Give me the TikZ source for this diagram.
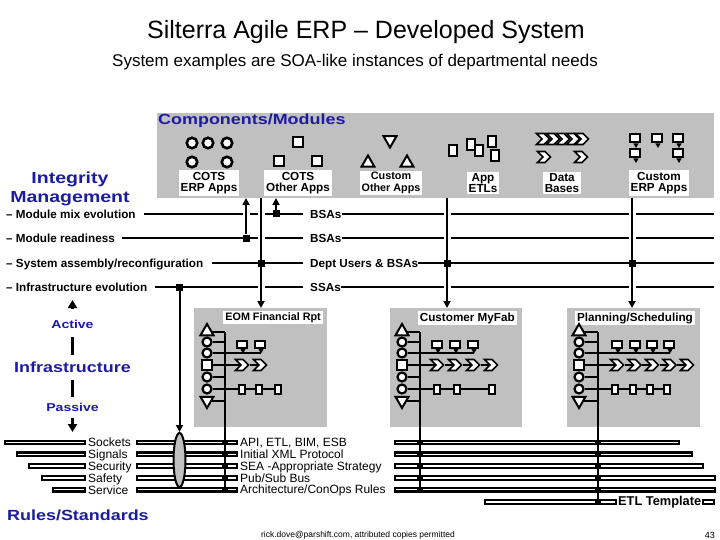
\documentclass[tikz,border=0pt]{standalone}
\usepackage{fontspec}
\setmainfont{Liberation Sans}
\newfontfamily\headfont[FakeStretch=1.22]{Liberation Sans}
\usepackage{tikz}
\usetikzlibrary{arrows.meta,calc,positioning,shapes.geometric,shapes.symbols}
\definecolor{PanelGray}{HTML}{C0C0C0}
\definecolor{HeadBlue}{HTML}{1C1CA0}

\begin{document}
\begin{tikzpicture}[
        x=1pt, y=-1pt,
        font=\bfseries\fontsize{11.7}{11.5}\selectfont,
        panel/.style={fill=PanelGray, inner sep=0pt, outer sep=0pt, anchor=north west},
        tag/.style={fill=white, align=center, inner xsep=2pt, inner ysep=1.5pt},
        head/.style={text=HeadBlue, inner sep=1pt, font=\headfont\bfseries\fontsize{14.7}{17}\selectfont},
        rowtxt/.style={anchor=west, inner sep=0pt, text height=8.5pt, text depth=0pt},
        ring/.style={circle, draw, line width=2.6pt, fill=white, minimum size=10.5pt, inner sep=0pt},
        blk/.style={rectangle, draw, line width=2.6pt, fill=white, minimum size=10pt, inner sep=0pt},
        triup/.style={regular polygon, regular polygon sides=3, draw, line width=2pt, fill=white, minimum size=15pt, inner sep=0pt},
        tridown/.style={triup, shape border rotate=180},
        sring/.style={ring, minimum size=9pt, line width=2.2pt},
        sblk/.style={blk, minimum size=9.5pt, line width=2.2pt},
        doc/.style={rectangle, draw, line width=2pt, fill=white, minimum width=6.5pt, minimum height=9pt, inner sep=0pt},
        chev/.style={signal, signal from=west, signal to=east, draw, line width=1.6pt, fill=white, minimum width=13pt, minimum height=11pt, inner sep=0pt},
        bubble/.style={rectangle, draw, line width=2pt, fill=white, minimum width=10pt, minimum height=6.5pt, inner sep=0pt},
        tail/.style={regular polygon, regular polygon sides=3, shape border rotate=180, fill=black, minimum size=6pt, inner sep=0pt},
        wire/.style={line width=2pt},
        arrow/.style={wire, -{Triangle[length=7pt,width=7pt]}},
        axis/.style={line width=2.6pt, -{Triangle[length=8pt,width=9pt]}},
        cross/.style={preaction={draw=white, line width=7pt, -}},
        jbox/.style={rectangle, fill=black, minimum size=7pt, inner sep=0pt},
        jdot/.style={rectangle, fill=black, minimum width=6pt, minimum height=5pt, inner sep=0pt},
        bar/.style={rectangle, draw, line width=2.2pt, fill=white, minimum height=3.6pt, inner sep=0pt, outer sep=0pt, anchor=west},
        plain/.style={font=\mdseries\fontsize{12}{11.8}\selectfont, anchor=west, align=left, inner sep=0pt}
    ]
    \fill[white] (0,0) rectangle (720,540);
    \useasboundingbox (0,0) rectangle (720,540);

    % title block
    \node[font=\mdseries\fontsize{25}{30}\selectfont, anchor=base] (title) at (366,39) {Silterra Agile ERP – Developed System};
    \node[font=\mdseries\fontsize{17}{20}\selectfont, anchor=base] (subtitle) at (355,67) {System examples are SOA-like instances of departmental needs};

    % component panel
    \node[panel, minimum width=557pt, minimum height=85pt] (modpanel) at (157,113) {};
    \node[head, anchor=base west, inner sep=0pt] (modhead) at (158,125) {Components/Modules};

    \node[ring] (erp1) at (192,143) {};
    \node[ring] (erp2) at (208,143) {};
    \node[ring] (erp3) at (227,143) {};
    \node[ring] (erp4) at (192,162) {};
    \node[ring] (erp5) at (227,162) {};
    \node[blk] (oth1) at (298,142) {};
    \node[blk] (oth2) at (279,161) {};
    \node[blk] (oth3) at (317,161) {};
    \node[tridown] (cus1) at (390,140) {};
    \node[triup] (cus2) at (368,163) {};
    \node[triup] (cus3) at (407,163) {};
    \node[doc, minimum width=7.5pt, minimum height=11pt] (etl1) at (453,151) {};
    \node[doc, minimum width=7.5pt, minimum height=11pt] (etl2) at (471,145) {};
    \node[doc, minimum width=7.5pt, minimum height=11pt] (etl3) at (479,151) {};
    \node[doc, minimum width=7.5pt, minimum height=11pt] (etl4) at (492,142) {};
    \node[doc, minimum width=7.5pt, minimum height=11pt] (etl5) at (495,156) {};
    \foreach \x [count=\i] in {543,553,563,573,582}
        \node[chev] (db\i) at (\x,139) {};
    \node[chev] (db6) at (544,157) {};
    \node[chev] (db7) at (581,157) {};
    \node[bubble, minimum height=8pt] (cea1) at (635,138) {};
    \node[bubble, minimum height=8pt] (cea2) at (657,138) {};
    \node[bubble, minimum height=8pt] (cea3) at (678,138) {};
    \node[bubble, minimum height=8pt] (cea4) at (635,153) {};
    \node[bubble, minimum height=8pt] (cea5) at (678,153) {};
    \node[tail] (ceat1) at (636,145) {};
    \node[tail] (ceat2) at (658,145) {};
    \node[tail] (ceat3) at (679,145) {};
    \node[tail] (ceat4) at (636,160) {};
    \node[tail] (ceat5) at (679,160) {};

    \node[tag] (cotserp) at (209,183) {COTS\\ERP Apps};
    \node[tag] (cotsoth) at (298,183) {COTS\\Other Apps};
    \node[tag, font=\bfseries\fontsize{10.8}{11.5}\selectfont] (custoth) at (391,183) {Custom\\Other Apps};
    \node[tag] (appetl) at (483,183) {App\\ETLs};
    \node[tag] (dbases) at (562,183) {Data\\Bases};
    \node[tag] (custerp) at (659,183) {Custom\\ERP Apps};

    % integrity rows
    \node[head, font=\headfont\bfseries\fontsize{16}{18.5}\selectfont, align=center] (integ) at (70,189) {Integrity\\Management};
    \node[rowtxt] (mixevo) at (6,214) {– Module mix evolution};
    \node[rowtxt] (readiness) at (6,238) {– Module readiness};
    \node[rowtxt] (assembly) at (6,263) {– System assembly/reconfiguration};
    \node[rowtxt] (infraevo) at (6,287) {– Infrastructure evolution};
    \node[rowtxt] (bsaone) at (310,214) {BSAs};
    \node[rowtxt] (bsatwo) at (310,238) {BSAs};
    \node[rowtxt] (deptusers) at (310,263) {Dept Users \& BSAs};
    \node[rowtxt] (ssas) at (310,287) {SSAs};
    \coordinate (endone) at (714,214);
    \coordinate (endtwo) at (714,238);
    \coordinate (endthree) at (714,263);
    \coordinate (endfour) at (714,287);

    \draw[wire] ([xshift=8pt]mixevo.east) -- ([xshift=-7pt]bsaone.west);
    \draw[wire] (bsaone.east) -- (endone);
    \draw[wire] ([xshift=7pt]readiness.east) -- ([xshift=-7pt]bsatwo.west);
    \draw[wire] (bsatwo.east) -- (endtwo);
    \draw[wire] ([xshift=9pt]assembly.east) -- ([xshift=-7pt]deptusers.west);
    \draw[wire] (deptusers.east) -- (endthree);
    \draw[wire] ([xshift=8pt]infraevo.east) -- ([xshift=-7pt]ssas.west);
    \draw[wire] (ssas.east) -- (endfour);

    % application panels
    \node[panel, minimum width=133pt, minimum height=119pt] (eompanel) at (194,308) {};
    \node[panel, minimum width=132pt, minimum height=119pt] (fabpanel) at (390,308) {};
    \node[panel, minimum width=133pt, minimum height=119pt] (planpanel) at (567,308) {};
    \node[tag, anchor=north east, font=\bfseries\fontsize{10.8}{12}\selectfont] (eomtag) at ([xshift=-4pt,yshift=-3pt]eompanel.north east) {EOM Financial Rpt};
    \node[tag, anchor=north east] (fabtag) at ([xshift=-5pt,yshift=-3pt]fabpanel.north east) {Customer MyFab};
    \node[tag, anchor=north east] (plantag) at ([xshift=-5pt,yshift=-3pt]planpanel.north east) {Planning/Scheduling};

    % feeds from the modules
    \coordinate (erpin) at (246,198);
    \coordinate (othin) at (276,198);
    \coordinate (eomfeed) at (261,198);
    \coordinate (fabfeed) at (447,198);
    \coordinate (planfeed) at (632,198);
    \node[jbox] (jtwo) at (246,238) {};
    \node[jbox] (jone) at (276,214) {};
    \node[jbox] (jfour) at (179.5,287) {};
    \draw[arrow, cross] (jtwo) -- (erpin);
    \draw[arrow] (jone) -- (othin);
    \draw[arrow, cross] (eomfeed) -- (eomfeed |- eompanel.north);
    \draw[arrow, cross] (fabfeed) -- (fabfeed |- fabpanel.north);
    \draw[arrow, cross] (planfeed) -- (planfeed |- planpanel.north);
    \node[jbox] (jthreea) at (261,263) {};
    \node[jbox] (jthreeb) at (447,263) {};
    \node[jbox] (jthreec) at (632,263) {};

    % infrastructure axis
    \node[head, font=\headfont\bfseries\fontsize{11.5}{13}\selectfont] (active) at (72.5,324) {Active};
    \node[head] (infra) at (72.5,367.5) {Infrastructure};
    \node[head, font=\headfont\bfseries\fontsize{11.5}{13}\selectfont] (passive) at (72.5,407.5) {Passive};
    \coordinate (activetip) at (72.5,300);
    \coordinate (passivetip) at (72.5,432);
    \draw[axis] ([yshift=10pt]active.north) -- (activetip);
    \draw[line width=2.6pt, shorten <=8pt, shorten >=6pt] (active) -- (infra);
    \draw[line width=2.6pt, shorten <=6pt, shorten >=5pt] (infra) -- (passive);
    \draw[axis] ([yshift=-5pt]passive.south) -- (passivetip);

    % rules / standards bars
    \node[bar, minimum width=80pt] (sockbar) at (5,442.5) {};
    \node[bar, minimum width=68pt] (sigbar) at (17,454.3) {};
    \node[bar, minimum width=56pt] (secbar) at (29,466.1) {};
    \node[bar, minimum width=43pt] (safebar) at (42,477.9) {};
    \node[bar, minimum width=32pt] (servbar) at (53,489.7) {};
    \node[plain] (stdlist) at (88,466.3) {Sockets\\Signals\\Security\\Safety\\Service};

    \node[bar, minimum width=100pt] (mb1) at (137,442.5) {};
    \node[bar, minimum width=100pt] (mb2) at (137,454.3) {};
    \node[bar, minimum width=100pt] (mb3) at (137,466.1) {};
    \node[bar, minimum width=100pt] (mb4) at (137,477.9) {};
    \node[bar, minimum width=100pt] (mb5) at (137,489.7) {};
    \node[plain] (rulelist) at (240,467.3) {API, ETL, BIM, ESB\\Initial XML Protocol\\SEA -Appropriate Strategy\\Pub/Sub Bus\\Architecture/ConOps Rules};

    \node[bar, minimum width=284pt] (rb1) at (395,442.5) {};
    \node[bar, minimum width=297pt] (rb2) at (395,454.3) {};
    \node[bar, minimum width=308pt] (rb3) at (395,466.1) {};
    \node[bar, minimum width=320pt] (rb4) at (395,477.9) {};
    \node[bar, minimum width=320pt] (rb5) at (395,489.7) {};
    \node[bar, minimum width=131pt] (etlbar) at (485,502) {};
    \node[anchor=west, inner sep=0pt, font=\bfseries\fontsize{12.8}{14}\selectfont] (etltemplate) at (618,502) {ETL Template};
    \node[bar, minimum width=11pt] (etltail) at (703,502) {};

    \node[ellipse, draw, line width=2pt, fill=PanelGray, minimum width=12pt, minimum height=54pt, inner sep=0pt] (stdring) at (179.5,460) {};
    \draw[arrow] (jfour) -- (stdring.north);

    % EOM assembly
    \coordinate (eomspine) at (225,331.5);
    \draw[wire] (eomspine) -- (eomspine |- mb5);
    \node[triup] (eup) at (207,331.5) {};
    \node[sring] (ec1) at (207,342) {};
    \node[sring] (ec2) at (207,353) {};
    \node[sblk] (esq) at (207,365) {};
    \node[sring] (ec3) at (207,377) {};
    \node[sring] (ec4) at (207,389) {};
    \node[tridown] (edn) at (207,400.5) {};
    \foreach \n in {eup,ec1,ec2,esq,ec3,ec4,edn}
        \draw[wire] (\n) -- (\n -| eomspine);
    \node[bubble] (eb1) at (242,344.5) {};
    \node[bubble] (eb2) at (260,344.5) {};
    \node[tail] (et1) at (243,350.5) {};
    \node[tail] (et2) at (261,350.5) {};
    \draw[wire] (ec2 -| eomspine) -- (ec2 -| et2);
    \node[chev] (ech1) at (242,365) {};
    \node[chev] (ech2) at (260,365) {};
    \draw[wire] (esq -| eomspine) -- (ech1) -- (ech2);
    \node[doc] (ed1) at (242,389) {};
    \node[doc] (ed2) at (259,389) {};
    \node[doc] (ed3) at (278,389) {};
    \draw[wire] (ec4 -| eomspine) -- (ed1) -- (ed2) -- (ed3);
    \foreach \b in {mb1,mb2,mb3,mb4,mb5}
        \node[jdot] (e\b) at (\b -| eomspine) {};

    % MyFab assembly
    \coordinate (fabspine) at (419.5,331.5);
    \draw[wire] (fabspine) -- (fabspine |- rb5);
    \node[triup] (fup) at (402,331.5) {};
    \node[sring] (fc1) at (402,342) {};
    \node[sring] (fc2) at (402,353) {};
    \node[sblk] (fsq) at (402,365) {};
    \node[sring] (fc3) at (402,377) {};
    \node[sring] (fc4) at (402,389) {};
    \node[tridown] (fdn) at (402,400.5) {};
    \foreach \n in {fup,fc1,fc2,fsq,fc3,fc4,fdn}
        \draw[wire] (\n) -- (\n -| fabspine);
    \node[bubble] (fb1) at (437,344.5) {};
    \node[bubble] (fb2) at (455,344.5) {};
    \node[bubble] (fb3) at (473,344.5) {};
    \node[tail] (ft1) at (438,350.5) {};
    \node[tail] (ft2) at (456,350.5) {};
    \node[tail] (ft3) at (474,350.5) {};
    \draw[wire] (fc2 -| fabspine) -- (fc2 -| ft3);
    \node[chev] (fch1) at (437,365) {};
    \node[chev] (fch2) at (455,365) {};
    \node[chev] (fch3) at (473,365) {};
    \node[chev] (fch4) at (491,365) {};
    \draw[wire] (fsq -| fabspine) -- (fch1) -- (fch2) -- (fch3) -- (fch4);
    \node[doc] (fd1) at (437,389) {};
    \node[doc] (fd2) at (457,389) {};
    \node[doc] (fd3) at (492,389) {};
    \draw[wire] (fc4 -| fabspine) -- (fd1) -- (fd2) -- (fd3);
    \foreach \b in {rb1,rb2,rb3,rb4,rb5}
        \node[jdot] (f\b) at (\b -| fabspine) {};

    % planning assembly
    \coordinate (planspine) at (598,331.5);
    \draw[wire] (planspine) -- (planspine |- etlbar);
    \node[triup] (pup) at (579,331.5) {};
    \node[sring] (pc1) at (579,342) {};
    \node[sring] (pc2) at (579,353) {};
    \node[sblk] (psq) at (579,365) {};
    \node[sring] (pc3) at (579,377) {};
    \node[sring] (pc4) at (579,389) {};
    \node[tridown] (pdn) at (579,400.5) {};
    \foreach \n in {pup,pc1,pc2,psq,pc3,pc4,pdn}
        \draw[wire] (\n) -- (\n -| planspine);
    \node[bubble] (pb1) at (617,344.5) {};
    \node[bubble] (pb2) at (635,344.5) {};
    \node[bubble] (pb3) at (652,344.5) {};
    \node[bubble] (pb4) at (669,344.5) {};
    \node[tail] (pt1) at (618,350.5) {};
    \node[tail] (pt2) at (636,350.5) {};
    \node[tail] (pt3) at (653,350.5) {};
    \node[tail] (pt4) at (670,350.5) {};
    \draw[wire] (pc2 -| planspine) -- (pc2 -| pt4);
    \node[chev] (pch1) at (617,365) {};
    \node[chev] (pch2) at (634.5,365) {};
    \node[chev] (pch3) at (652,365) {};
    \node[chev] (pch4) at (669.5,365) {};
    \node[chev] (pch5) at (687,365) {};
    \draw[wire] (psq -| planspine) -- (pch1) -- (pch2) -- (pch3) -- (pch4) -- (pch5);
    \node[doc] (pd1) at (615,389) {};
    \node[doc] (pd2) at (633,389) {};
    \node[doc] (pd3) at (650,389) {};
    \node[doc] (pd4) at (667,389) {};
    \draw[wire] (pc4 -| planspine) -- (pd1) -- (pd2) -- (pd3) -- (pd4);
    \foreach \b in {rb1,rb2,rb3,rb4,rb5,etlbar}
        \node[jdot] (p\b) at (\b -| planspine) {};

    \node[head, anchor=base west, inner sep=0pt] (rulehead) at (7,520) {Rules/Standards};

    % footer
    \node[font=\mdseries\fontsize{8.5}{10}\selectfont] (credit) at (358,535) {rick.dove@parshift.com, attributed copies permitted};
    \node[font=\mdseries\fontsize{9}{10}\selectfont, anchor=east, inner sep=0pt] (pageno) at (715,535) {43};
\end{tikzpicture}
\end{document}
